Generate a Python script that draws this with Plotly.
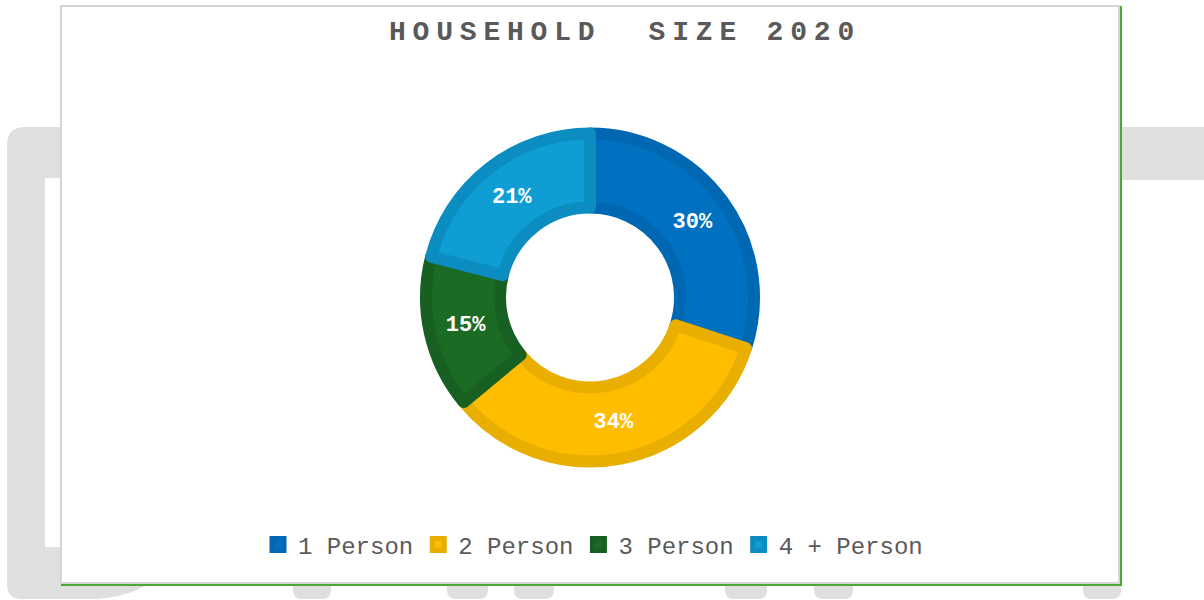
import plotly.graph_objects as go

# Household size shares for 2020
categories = ["1 Person", "2 Person", "3 Person", "4 + Person"]
shares = [30, 34, 15, 21]

fill_colors = ["#0070C0", "#FFBD00", "#1C6B25", "#0F9ED4"]
edge_colors = ["#0067B2", "#E8AE00", "#176021", "#0B8DC2"]

title_text = "HOUSEHOLD\u00a0 SIZE 2020"

W, H = 1204, 600
FONT = "Liberation Mono, Courier New, monospace"
TEXT_GRAY = "#595959"
BACK_GRAY = "#DFDFDF"


def px(x):
    return x / W


def py(y):
    return 1 - y / H


def path(cmds):
    """Build an SVG path in paper units from pixel-space commands."""
    out = []
    for c in cmds:
        if isinstance(c, str):
            out.append(c)
        else:
            out.append(f"{px(c[0]):.5f},{py(c[1]):.5f}")
    return " ".join(out)


shapes = []

# decorative letterforms behind the card
shapes.append(dict(
    type="path", xref="paper", yref="paper", layer="below",
    fillcolor=BACK_GRAY, line=dict(width=0),
    path=path(["M", (7, 145), "Q", (7, 127), (25, 127), "L", (140, 127),
               "L", (140, 560), "L", (150, 583), "C", (135, 593), (115, 598), (95, 599),
               "L", (22, 599), "Q", (7, 599), (7, 584), "Z"]),
))
shapes.append(dict(
    type="rect", xref="paper", yref="paper", layer="below",
    x0=px(45), x1=px(90), y0=py(547), y1=py(178),
    fillcolor="white", line=dict(width=0),
))
shapes.append(dict(
    type="rect", xref="paper", yref="paper", layer="below",
    x0=px(1100), x1=px(1204), y0=py(180), y1=py(127),
    fillcolor=BACK_GRAY, line=dict(width=0),
))
for x0, x1 in [(293, 331), (447, 488), (514, 554), (725, 767), (814, 853), (1083, 1121)]:
    shapes.append(dict(
        type="path", xref="paper", yref="paper", layer="below",
        fillcolor=BACK_GRAY, line=dict(width=0),
        path=path(["M", (x0, 575), "L", (x1, 575), "L", (x1, 590),
                   "Q", (x1, 599), (x1 - 9, 599), "L", (x0 + 9, 599),
                   "Q", (x0, 599), (x0, 590), "Z"]),
    ))

# chart card
shapes.append(dict(
    type="rect", xref="paper", yref="paper", layer="below",
    x0=px(61), x1=px(1119), y0=py(583), y1=py(6),
    fillcolor="white", line=dict(color="#D6D6D6", width=2),
))
shapes.append(dict(
    type="line", xref="paper", yref="paper", layer="below",
    x0=px(1121), x1=px(1121), y0=py(586), y1=py(6),
    line=dict(color="#4EA82F", width=2),
))
shapes.append(dict(
    type="line", xref="paper", yref="paper", layer="below",
    x0=px(61), x1=px(1122), y0=py(585), y1=py(585),
    line=dict(color="#4EA82F", width=2),
))

# donut geometry (pixels)
cx, cy = 590, 297.5
r_outer, r_inner = 170, 84
edge_w = 12
r_path_out = r_outer - edge_w / 2
r_path_in = r_inner + edge_w / 2

fig = go.Figure(go.Pie(
    labels=categories,
    values=shares,
    sort=False,
    direction="clockwise",
    rotation=0,
    hole=r_path_in / r_path_out,
    marker=dict(colors=fill_colors, line=dict(color=edge_colors, width=edge_w)),
    texttemplate="%{value}%",
    textposition="inside",
    insidetextorientation="horizontal",
    textfont=dict(family=FONT, size=22, color="white", weight="bold"),
    hoverinfo="label+percent",
    domain=dict(
        x=[px(cx - 260), px(cx + 260)],
        y=[py(cy + r_path_out), py(cy - r_path_out)],
    ),
))

fig.update_layout(
    width=W, height=H,
    margin=dict(l=0, r=0, t=0, b=0),
    paper_bgcolor="white",
    plot_bgcolor="white",
    shapes=shapes,
    title=dict(
        text=f'<span style="letter-spacing:6.8px">{title_text}</span>',
        x=px(625), xanchor="center", xref="paper",
        y=py(30.5), yanchor="middle", yref="paper",
        font=dict(family=FONT, size=28, color=TEXT_GRAY, weight="bold"),
    ),
    showlegend=True,
    legend=dict(
        orientation="h",
        x=px(258), xanchor="left",
        y=py(545), yanchor="middle",
        font=dict(family=FONT, size=24, color=TEXT_GRAY),
        bgcolor="rgba(0,0,0,0)",
        traceorder="normal",
    ),
)

fig.write_html("out.html")
